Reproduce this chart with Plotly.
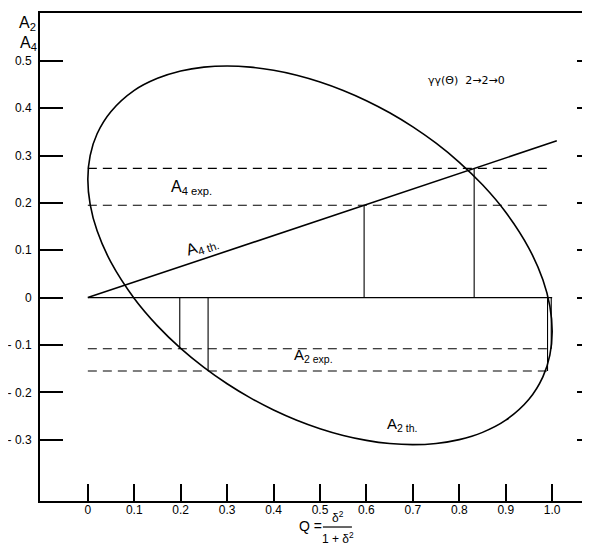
import plotly.graph_objects as go

# ---------------- data ----------------
# A2 theoretical curve (closed ellipse): upper branch Q: 0 -> 1, lower branch 1 -> 0
q_upper = [0.0, 0.005, 0.02, 0.05, 0.10, 0.15, 0.20, 0.25, 0.30, 0.35, 0.40, 0.45,
           0.50, 0.55, 0.60, 0.65, 0.70, 0.75, 0.80, 0.85, 0.90, 0.95, 0.98, 0.995, 1.0]
a2_upper = [0.250, 0.300, 0.346, 0.393, 0.4375, 0.463, 0.4785, 0.4867, 0.4891, 0.4867,
            0.480, 0.4696, 0.4553, 0.4374, 0.4158, 0.3903, 0.3605, 0.326, 0.2857,
            0.2382, 0.1803, 0.1042, 0.0375, -0.0182, -0.0714]
q_lower = [0.995, 0.98, 0.95, 0.90, 0.85, 0.80, 0.75, 0.70, 0.65, 0.60, 0.55, 0.50,
           0.45, 0.40, 0.35, 0.30, 0.25, 0.20, 0.15, 0.10, 0.05, 0.02, 0.005, 0.0]
a2_lower = [-0.1214, -0.1675, -0.2148, -0.2589, -0.2846, -0.2999, -0.308, -0.3105,
            -0.3081, -0.3014, -0.2910, -0.2767, -0.2588, -0.2372, -0.2117, -0.1819,
            -0.1473, -0.1071, -0.0596, -0.0017, 0.0744, 0.141, 0.197, 0.250]

# A4 theoretical line
q_a4 = [0.0, 1.01]
a4_th = [0.0, 0.331]

# experimental values (dashed levels)
a4_exp = [0.273, 0.195]
a2_exp = [-0.108, -0.155]
exp_q_range = [0.0, 1.0]

# zero line
zero_q = [0.0, 1.0]

# vertical solutions (Q position, level reached from 0)
vert_q = [0.595, 0.832, 0.198, 0.259, 0.990, 0.998]
vert_level = [0.195, 0.273, -0.108, -0.155, -0.155, -0.108]

# ticks
x_ticks = [0.0, 0.1, 0.2, 0.3, 0.4, 0.5, 0.6, 0.7, 0.8, 0.9, 1.0]
x_ticktext = ["0", "0.1", "0.2", "0.3", "0.4", "0.5", "0.6", "0.7", "0.8", "0.9", "1.0"]
y_ticks = [-0.3, -0.2, -0.1, 0.0, 0.1, 0.2, 0.3, 0.4, 0.5]
y_ticktext = ["- 0.3", "- 0.2", "- 0.1", "0", "0.1", "0.2", "0.3", "0.4", "0.5"]

# ---------------- figure ----------------
FONT = "Liberation Sans, Arial, sans-serif"
fig = go.Figure()

# ellipse
fig.add_trace(go.Scatter(
    x=q_upper + q_lower, y=a2_upper + a2_lower, mode="lines",
    line=dict(color="black", width=1.6, shape="spline", smoothing=1.0),
    hoverinfo="skip", showlegend=False))

# A4 th line
fig.add_trace(go.Scatter(x=q_a4, y=a4_th, mode="lines",
                         line=dict(color="black", width=1.6),
                         hoverinfo="skip", showlegend=False))

# dashed experimental levels
dx, dy = [], []
for lv in a4_exp + a2_exp:
    dx += exp_q_range + [None]
    dy += [lv, lv, None]
fig.add_trace(go.Scatter(x=dx, y=dy, mode="lines",
                         line=dict(color="black", width=1.1, dash="9px,6px"),
                         hoverinfo="skip", showlegend=False))

# zero line
fig.add_trace(go.Scatter(x=zero_q, y=[0, 0], mode="lines",
                         line=dict(color="black", width=1.4),
                         hoverinfo="skip", showlegend=False))

# vertical lines
vx, vy = [], []
for q, lv in zip(vert_q, vert_level):
    vx += [q, q, None]
    vy += [0, lv, None]
fig.add_trace(go.Scatter(x=vx, y=vy, mode="lines",
                         line=dict(color="black", width=1.1),
                         hoverinfo="skip", showlegend=False))

# invisible trace to anchor the right-hand tick axis
fig.add_trace(go.Scatter(x=[0], y=[0], yaxis="y2", mode="markers",
                         marker=dict(opacity=0), hoverinfo="skip", showlegend=False))

# labels on the chart
def ann(x, y, text, size=15, angle=0, family=FONT, **kw):
    fig.add_annotation(x=x, y=y, text=text, showarrow=False, textangle=angle,
                       xanchor="center", yanchor="middle",
                       font=dict(family=family, size=size, color="black"), **kw)

ann(0.223, 0.233, "A<sub>4 exp.</sub>", size=16)
ann(0.245, 0.108, "A<sub>4 th.</sub>", size=16, angle=-18.4)
ann(0.485, -0.122, "A<sub>2 exp.</sub>", size=15)
ann(0.676, -0.268, "A<sub>2 th.</sub>", size=15)
ann(0.815, 0.458, "γγ(Θ)  2→2→0", size=11, family="DejaVu Sans, sans-serif")

# axis titles (A2 / A4 at top left, Q fraction at bottom)
ann(-0.0232, 0.9775, "A<sub>2</sub>", size=16, xref="paper", yref="paper")
ann(-0.0214, 0.9385, "A<sub>4</sub>", size=16, xref="paper", yref="paper")
ann(0.484, -0.0512, "Q =", size=14, xref="paper", yref="paper")
ann(0.534, -0.0328, "δ<sup>2</sup>", size=12, xref="paper", yref="paper")
ann(0.534, -0.0758, "1 + δ<sup>2</sup>", size=12, xref="paper", yref="paper")
fig.add_shape(type="line", xref="paper", yref="paper", x0=0.507, x1=0.559,
              y0=-0.0533, y1=-0.0533, line=dict(color="black", width=1.2))

fig.update_layout(
    width=590, height=546,
    margin=dict(l=30, r=0, t=5, b=53),
    paper_bgcolor="white", plot_bgcolor="white",
    showlegend=False,
    xaxis=dict(range=[-0.103, 1.0987], showgrid=False, zeroline=False,
               tickmode="array", tickvals=x_ticks, ticktext=x_ticktext,
               ticks="inside", ticklen=17, tickwidth=2, tickcolor="black",
               showline=True, linewidth=2, linecolor="black", mirror=True,
               ticklabelstandoff=-3,
               tickfont=dict(family=FONT, size=12, color="black")),
    yaxis=dict(range=[-0.4295, 0.601], showgrid=False, zeroline=False,
               tickmode="array", tickvals=y_ticks, ticktext=y_ticktext,
               ticks="inside", ticklen=23, tickwidth=2, tickcolor="black",
               showline=True, linewidth=2, linecolor="black",
               ticklabelstandoff=4,
               tickfont=dict(family=FONT, size=12, color="black")),
    yaxis2=dict(range=[-0.4295, 0.601], overlaying="y", side="right",
                showgrid=False, zeroline=False, showline=False,
                tickmode="array", tickvals=y_ticks, showticklabels=False,
                ticks="inside", ticklen=21, tickwidth=2, tickcolor="black"),
)

fig.write_html("out.html")
